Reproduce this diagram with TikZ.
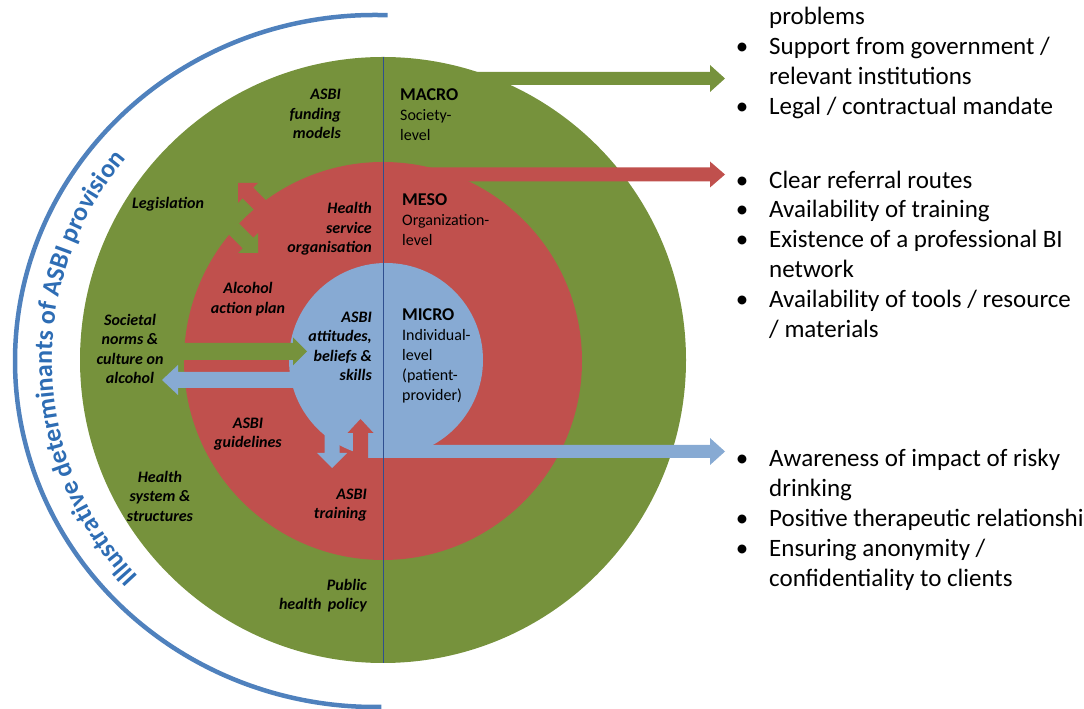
\documentclass[tikz,border=0pt]{standalone}
\usepackage{fontspec}
\setmainfont{Carlito}
\usetikzlibrary{calc,decorations.text}
\definecolor{Macro}{HTML}{76923C}
\definecolor{Meso}{HTML}{C0504D}
\definecolor{Micro}{HTML}{87AAD3}
\definecolor{Rim}{HTML}{4F81BD}
\definecolor{RimText}{HTML}{2E6DB4}
\definecolor{Divide}{HTML}{2F4F8F}

% block arrow from #2 to #3: #4 half shaft, #5 half head, #6 head length
\newcommand\fatarrow[6]{%
  \coordinate (fa-base) at ($(#3)!#6pt!(#2)$);
  \fill[#1] ($(#2)!#4pt!-90:(#3)$) -- ($(fa-base)!#4pt!-90:(#3)$) -- ($(fa-base)!#5pt!-90:(#3)$) -- (#3)
    -- ($(fa-base)!#5pt!90:(#3)$) -- ($(fa-base)!#4pt!90:(#3)$) -- ($(#2)!#4pt!90:(#3)$) -- cycle;}
\newcommand\bul{\llap{\textbullet\hspace{21pt}}}

\begin{document}
\begin{tikzpicture}[x=1pt,y=1pt,every node/.style={inner sep=0pt},
  lvl/.style={circle,inner sep=0pt,minimum size=#1},
  det/.style={font=\fontsize{16}{19.5}\selectfont\bfseries\itshape,align=center},
  detr/.style={det,align=right,anchor=east},
  lvltxt/.style={font=\fontsize{16}{20}\selectfont,align=left,anchor=west},
  listline/.style={anchor=base west,font=\fontsize{25}{30}\selectfont}]
  \useasboundingbox (0,0) rectangle (1084,709);

  % the three levels
  \node[lvl=606,fill=Macro] (macro) at (383,349) {};
  \coordinate (macro-out) at (383,630.5); \coordinate (macro-tip) at (725,630.5);
  \fatarrow{Macro}{macro-out}{macro-tip}{6.5}{13.5}{15}
  \node[lvl=398,fill=Meso] (meso) at (383,348) {};
  \coordinate (meso-out) at (383,534.5); \coordinate (meso-tip) at (725,534.5);
  \fatarrow{Meso}{meso-out}{meso-tip}{7}{13}{15}

  % legislation <-> health service organisation
  \coordinate (leg-in) at (273.4,490.6); \coordinate (leg-tip) at (238,526);
  \coordinate (leg-out) at (222.6,491.4); \coordinate (hso-tip) at (258,456);
  \fatarrow{Meso}{leg-in}{leg-tip}{7.5}{14}{14}
  \fatarrow{Macro}{leg-out}{hso-tip}{7.5}{14}{14}

  \node[lvl=194,fill=Micro] (micro) at (386,349) {};
  \coordinate (norms-in) at (320,329); \coordinate (norms-back) at (162,329);
  \fatarrow{Micro}{norms-in}{norms-back}{8}{15}{16}
  \coordinate (down-in) at (332,289); \coordinate (down-tip) at (332,241);
  \fatarrow{Micro}{down-in}{down-tip}{7.5}{15}{15}
  \coordinate (micro-out) at (368,257.5); \coordinate (micro-tip) at (725,257.5);
  \fatarrow{Micro}{micro-out}{micro-tip}{6.5}{13.5}{15}
  \coordinate (up-in) at (360.5,251); \coordinate (up-tip) at (360.5,290);
  \fatarrow{Meso}{up-in}{up-tip}{7.5}{13}{14}
  \coordinate (norms-out) at (175,357.5); \coordinate (norms-tip) at (307,357.5);
  \fatarrow{Macro}{norms-out}{norms-tip}{8.5}{14}{14}

  \draw[Divide,line width=1] (macro.north) -- (macro.south);

  % rim with its title
  \coordinate (rim) at (375,348);
  \draw[Rim,line width=4.5] (rim) ++(88:360 and 346) arc[start angle=88,end angle=271,x radius=360,y radius=346];
  \path[decorate,decoration={text along path,text align=center,
      text={|\fontsize{26}{26}\selectfont\bfseries\color{RimText}|Illustrative determinants of ASBI provision}}]
    (rim) ++(256.6:323 and 317) arc[start angle=256.6,end angle=106.6,x radius=323,y radius=317];

  % determinants
  \node[detr] (funding) at (341,595) {ASBI\\funding\\models};
  \node[det] (legislation) at (168,505) {Legislation};
  \node[detr] (hso) at (372,480) {Health\\service\\organisation};
  \node[det] (aap) at (248,410) {Alcohol\\action plan};
  \node[detr] (attitudes) at (372,362.5) {ASBI\\attitudes,\\beliefs \&\\skills};
  \node[det] (norms) at (130,360) {Societal\\norms \&\\culture on\\alcohol};
  \node[det] (guidelines) at (248,275) {ASBI\\guidelines};
  \node[det] (hss) at (160,213) {Health\\system \&\\structures};
  \node[detr] (training) at (367,204) {ASBI\\training};
  \node[detr] (policy) at (367,113.5) {Public\\health\, policy};

  % level names
  \node[lvltxt] (macro-lbl) at (400,594) {{\fontsize{18}{20}\selectfont\bfseries MACRO}\\Society-\\level};
  \node[lvltxt] (meso-lbl) at (402,489) {{\fontsize{18}{20}\selectfont\bfseries MESO}\\Organization-\\level};
  \node[lvltxt] (micro-lbl) at (402,353) {{\fontsize{18}{20}\selectfont\bfseries MICRO}\\Individual-\\level\\(patient-\\provider)};

  % outcome lists
  \node[listline] (l1) at (769,684) {problems};
  \node[listline] (l2) at (769,654) {\bul Support from government /};
  \node[listline] (l3) at (769,624) {relevant institutions};
  \node[listline] (l4) at (769,594) {\bul Legal / contractual mandate};
  \node[listline] (l5) at (769,520) {\bul Clear referral routes};
  \node[listline] (l6) at (769,491) {\bul Availability of training};
  \node[listline] (l7) at (769,461) {\bul Existence of a professional BI};
  \node[listline] (l8) at (769,431) {network};
  \node[listline] (l9) at (769,401) {\bul Availability of tools / resource};
  \node[listline] (l10) at (769,371) {/ materials};
  \node[listline] (l11) at (769,242) {\bul Awareness of impact of risky};
  \node[listline] (l12) at (769,212) {drinking};
  \node[listline] (l13) at (769,182) {\bul Positive therapeutic relationship};
  \node[listline] (l14) at (769,152) {\bul Ensuring anonymity /};
  \node[listline] (l15) at (769,122) {confidentiality to clients};
\end{tikzpicture}
\end{document}
